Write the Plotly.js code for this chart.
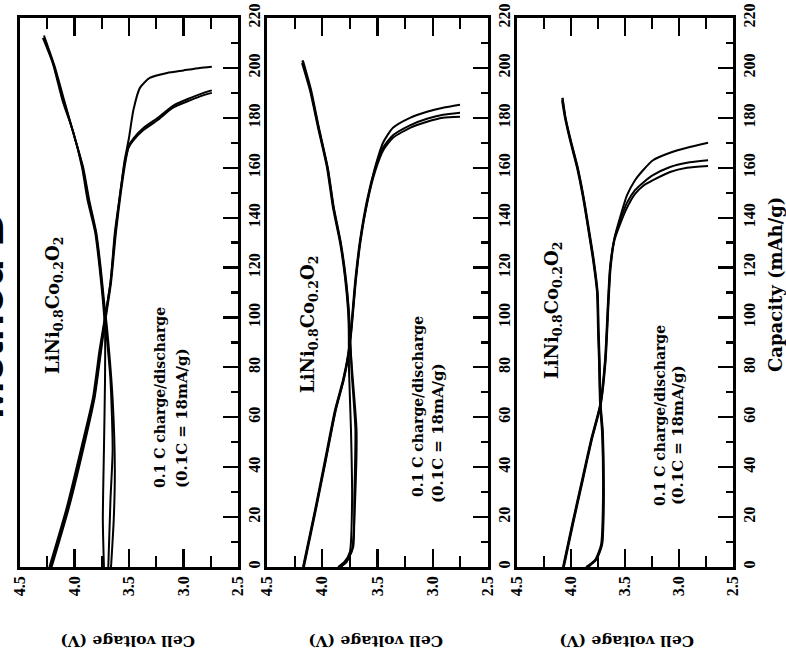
<!DOCTYPE html>
<html>
<head>
<meta charset="utf-8">
<script src="https://cdn.plot.ly/plotly-3.0.1.min.js"></script>
<style>html,body{margin:0;padding:0;background:#fff;}#chart{width:786px;height:660px;}</style>
</head>
<body>
<div id="chart"></div>
<script>
// ---------- tick labels ----------
const voltageTicks = [4.5, 4.0, 3.5, 3.0, 2.5];
const voltageTickText = ['4.5', '4.0', '3.5', '3.0', '2.5'];
const voltageMinorTicks = [4.25, 3.75, 3.25, 2.75];
const capacityTicks = [0, 20, 40, 60, 80, 100, 120, 140, 160, 180, 200, 220];
const capacityTickText = ['0', '20', '40', '60', '80', '100', '120', '140', '160', '180', '200', '220'];
const capacityMinorTicks = [10, 30, 50, 70, 90, 110, 130, 150, 170, 190, 210];

// ---------- Panel 1 (x = cell voltage V, y = capacity mAh/g) ----------
const p1_charge1_v   = [3.73, 3.74, 3.73, 3.72, 3.72, 3.74, 3.77, 3.81, 3.88, 3.93, 4.01, 4.11, 4.20, 4.29];
const p1_charge1_cap = [0, 19, 47, 75, 95, 107, 120, 134, 147, 160, 174, 187, 202, 212];
const p1_charge2_v   = [3.69, 3.67, 3.65, 3.67, 3.71, 3.735, 3.765, 3.805, 3.87, 3.925, 4.01, 4.10, 4.19, 4.28];
const p1_charge2_cap = [0, 27, 47, 75, 95, 107, 120, 134, 147, 160, 174, 187, 201, 212];
const p1_charge3_v   = [3.665, 3.64, 3.63, 3.65, 3.70, 3.73, 3.76, 3.80, 3.865, 3.92, 4.005, 4.095, 4.185, 4.28];
const p1_charge3_cap = [0, 19, 39, 67, 95, 107, 120, 134, 147, 160, 173, 187, 201, 213];
const p1_dis1_v   = [4.23, 4.07, 3.92, 3.83, 3.77, 3.74, 3.67, 3.63, 3.58, 3.54, 3.50, 3.46, 3.40, 3.31, 3.15, 3.00, 2.85, 2.74];
const p1_dis1_cap = [0, 24, 51, 68, 87, 95, 114, 134, 150, 163, 172, 183, 192, 196, 198, 199, 200, 200.5];
const p1_dis2_v   = [4.22, 4.06, 3.91, 3.82, 3.76, 3.735, 3.67, 3.625, 3.58, 3.535, 3.505, 3.46, 3.37, 3.24, 3.10, 2.94, 2.82, 2.74];
const p1_dis2_cap = [0, 24, 51, 68, 87, 95, 114, 134, 150, 163, 168, 171, 175, 179, 184, 187, 189, 190];
const p1_dis3_v   = [4.21, 4.05, 3.90, 3.815, 3.755, 3.73, 3.665, 3.62, 3.575, 3.53, 3.50, 3.455, 3.365, 3.235, 3.09, 2.935, 2.815, 2.74];
const p1_dis3_cap = [0, 24, 51, 68, 87, 95, 114, 134, 150, 163, 169, 172, 176, 180, 185, 188, 190, 191];

// ---------- Panel 2 ----------
const p2_charge1_v   = [3.857, 3.80, 3.75, 3.73, 3.74, 3.758, 3.76, 3.767, 3.794, 3.839, 3.903, 3.957, 4.038, 4.111, 4.183];
const p2_charge1_cap = [0, 2, 6, 27, 55, 79, 95, 103, 116, 130, 144, 160, 176, 191, 202];
const p2_charge2_v   = [3.84, 3.78, 3.73, 3.70, 3.69, 3.73, 3.755, 3.762, 3.79, 3.835, 3.898, 3.952, 4.033, 4.106, 4.18];
const p2_charge2_cap = [0, 2, 7, 30, 55, 79, 95, 103, 116, 130, 144, 160, 176, 191, 203];
const p2_charge3_v   = [3.83, 3.77, 3.72, 3.71, 3.70, 3.735, 3.75, 3.76, 3.787, 3.832, 3.895, 3.95, 4.03, 4.10, 4.175];
const p2_charge3_cap = [0, 3, 8, 27, 55, 79, 95, 103, 116, 130, 144, 160, 176, 191, 203];
const p2_dis1_v   = [4.174, 4.066, 3.975, 3.885, 3.812, 3.767, 3.740, 3.704, 3.658, 3.595, 3.523, 3.450, 3.360, 3.206, 3.052, 2.907, 2.753];
const p2_dis1_cap = [0, 22.8, 42.9, 62.9, 75, 85, 95, 113.8, 131, 147, 160, 170, 176, 180, 182.4, 184, 185.2];
const p2_dis2_v   = [4.17, 4.062, 3.97, 3.88, 3.808, 3.764, 3.738, 3.70, 3.655, 3.59, 3.52, 3.45, 3.36, 3.206, 3.052, 2.907, 2.753];
const p2_dis2_cap = [0, 22.8, 42.9, 62.9, 75, 85, 95, 113.8, 131, 147, 160, 168, 173, 177, 179.6, 181.2, 182];
const p2_dis3_v   = [4.166, 4.058, 3.967, 3.877, 3.805, 3.762, 3.735, 3.698, 3.652, 3.588, 3.518, 3.448, 3.36, 3.206, 3.052, 2.907, 2.753];
const p2_dis3_cap = [0, 22.8, 42.9, 62.9, 75, 85, 95, 113.8, 131, 147, 159, 167, 172, 176, 178.4, 180, 180.4];

// ---------- Panel 3 ----------
const p3_charge1_v   = [3.861, 3.778, 3.722, 3.704, 3.713, 3.731, 3.741, 3.750, 3.759, 3.796, 3.843, 3.889, 3.944, 4.009, 4.056, 4.083];
const p3_charge1_cap = [0, 2.8, 8.8, 27, 54, 65, 83, 95, 110, 123, 136, 148, 160, 171, 180, 187];
const p3_charge2_v   = [3.85, 3.77, 3.715, 3.70, 3.708, 3.728, 3.738, 3.747, 3.756, 3.792, 3.84, 3.885, 3.94, 4.005, 4.052, 4.08];
const p3_charge2_cap = [0, 3, 9, 27, 54, 65, 83, 95, 110, 123, 136, 148, 160, 171, 180, 188];
const p3_charge3_v   = [3.84, 3.765, 3.712, 3.696, 3.705, 3.725, 3.735, 3.744, 3.753, 3.789, 3.836, 3.882, 3.937, 4.002, 4.05, 4.078];
const p3_charge3_cap = [0, 3, 9, 27, 54, 65, 83, 95, 110, 123, 136, 148, 160, 171, 180, 188];
const p3_dis1_v   = [4.074, 3.991, 3.898, 3.815, 3.731, 3.685, 3.657, 3.639, 3.602, 3.546, 3.481, 3.407, 3.333, 3.241, 3.083, 2.926, 2.731];
const p3_dis1_cap = [0, 16.8, 34.9, 50.9, 64.9, 83, 107, 120, 131, 140, 149, 155, 159, 163, 166, 168, 170];
const p3_dis2_v   = [4.07, 3.987, 3.894, 3.811, 3.728, 3.682, 3.654, 3.636, 3.60, 3.544, 3.481, 3.407, 3.333, 3.241, 3.083, 2.926, 2.731];
const p3_dis2_cap = [0, 16.8, 34.9, 50.9, 64.9, 83, 107, 120, 131, 139, 146, 151, 154, 157, 160.3, 162, 163];
const p3_dis3_v   = [4.066, 3.983, 3.89, 3.808, 3.725, 3.679, 3.651, 3.633, 3.597, 3.54, 3.481, 3.407, 3.333, 3.241, 3.083, 2.926, 2.731];
const p3_dis3_cap = [0, 16.8, 34.9, 50.9, 64.9, 83, 107, 120, 131, 138, 144, 149.5, 152.7, 155, 158.3, 160, 160.7];

// ---------- Text ----------
const titleText = 'Method B';
const compoundText = 'LiNi<sub>0.8</sub>Co<sub>0.2</sub>O<sub>2</sub>';
const rateLine1 = '0.1 C charge/discharge';
const rateLine2 = '(0.1C = 18mA/g)';
const voltageTitle = 'Cell voltage (V)';
const capacityTitle = 'Capacity (mAh/g)';

// ---------- build ----------
const W = 786, H = 660;
const fx = p => p / W;
const fy = p => 1 - p / H;

const panels = [
  { curves: [[p1_charge1_v, p1_charge1_cap], [p1_charge2_v, p1_charge2_cap], [p1_charge3_v, p1_charge3_cap],
             [p1_dis1_v, p1_dis1_cap], [p1_dis2_v, p1_dis2_cap], [p1_dis3_v, p1_dis3_cap]],
    left: 20, right: 238 },
  { curves: [[p2_charge1_v, p2_charge1_cap], [p2_charge2_v, p2_charge2_cap], [p2_charge3_v, p2_charge3_cap],
             [p2_dis1_v, p2_dis1_cap], [p2_dis2_v, p2_dis2_cap], [p2_dis3_v, p2_dis3_cap]],
    left: 267, right: 488 },
  { curves: [[p3_charge1_v, p3_charge1_cap], [p3_charge2_v, p3_charge2_cap], [p3_charge3_v, p3_charge3_cap],
             [p3_dis1_v, p3_dis1_cap], [p3_dis2_v, p3_dis2_cap], [p3_dis3_v, p3_dis3_cap]],
    left: 517, right: 733 }
];

const plotTop = 18, plotBottom = 567;
const tickFont = { family: 'Liberation Serif', size: 16, color: '#000', weight: 'bold' };
const txtFont = (s) => ({ family: 'DejaVu Serif', size: s, color: '#000', weight: 'bold' });

const traces = [];
const layout = {
  width: W, height: H,
  margin: { l: 0, r: 0, t: 0, b: 0 },
  paper_bgcolor: '#fff', plot_bgcolor: '#fff',
  showlegend: false,
  annotations: []
};

panels.forEach((p, i) => {
  const n = i + 1;
  const xa = n === 1 ? 'x' : 'x' + n;
  const ya = n === 1 ? 'y' : 'y' + n;
  p.curves.forEach(c => {
    traces.push({ x: c[0], y: c[1], xaxis: xa, yaxis: ya, type: 'scatter', mode: 'lines',
      line: { color: '#000', width: 2, shape: 'spline', smoothing: 0.6 }, hoverinfo: 'skip' });
  });
  const xKey = n === 1 ? 'xaxis' : 'xaxis' + n;
  const yKey = n === 1 ? 'yaxis' : 'yaxis' + n;
  const yLeftKey = 'yaxis' + (n + 3);
  layout[xKey] = {
    domain: [fx(p.left), fx(p.right)], anchor: ya,
    range: [4.5, 2.5], tickmode: 'array', tickvals: voltageTicks, ticktext: voltageTickText,
    ticks: 'inside', ticklen: 18, tickwidth: 2.2, tickcolor: '#000',
    minor: { tickmode: 'array', tickvals: voltageMinorTicks, ticks: 'inside', ticklen: 11, tickwidth: 2.2, tickcolor: '#000', showgrid: false },
    showline: true, linewidth: 2.8, linecolor: '#000', mirror: 'ticks',
    showgrid: false, zeroline: false, tickangle: -90, tickfont: tickFont, fixedrange: true
  };
  layout[yKey] = {
    domain: [fy(plotBottom), fy(plotTop)], anchor: xa, side: 'right',
    range: [0, 220], tickmode: 'array', tickvals: capacityTicks, ticktext: capacityTickText,
    ticks: 'inside', ticklen: 15, tickwidth: 2.2, tickcolor: '#000',
    minor: { tickmode: 'array', tickvals: capacityMinorTicks, ticks: 'inside', ticklen: 7, tickwidth: 2.2, tickcolor: '#000', showgrid: false },
    showline: true, linewidth: 2.8, linecolor: '#000', mirror: true,
    showgrid: false, zeroline: false, tickangle: -90, tickfont: tickFont, fixedrange: true
  };
  layout[yLeftKey] = {
    overlaying: ya, anchor: xa, side: 'left', range: [0, 220],
    tickmode: 'linear', tick0: 11.5, dtick: 11, ticks: 'inside', ticklen: 13, tickwidth: 2.2, tickcolor: '#000',
    showticklabels: false, showline: false, showgrid: false, zeroline: false, fixedrange: true
  };
});

// annotations (positions in pixels converted to paper)
const ann = (text, x, y, angle, font) => layout.annotations.push({
  text: text, xref: 'paper', yref: 'paper', x: fx(x), y: fy(y), xanchor: 'center', yanchor: 'middle',
  textangle: angle, showarrow: false, font: font
});
ann(titleText, -12, 317, -90, { family: 'Liberation Sans', size: 45, color: '#000', weight: 'bold' });
const compoundPos = [[54, 306], [309, 325], [553, 311]];
const line1Pos = [[160, 398], [418, 407], [660, 416]];
const line2Pos = [[182, 418], [438, 433], [678, 435]];
const vTitlePos = [128, 376, 627];
for (let i = 0; i < 3; i++) {
  ann(compoundText, compoundPos[i][0], compoundPos[i][1], -90, txtFont(18));
  ann(rateLine1, line1Pos[i][0], line1Pos[i][1], -90, txtFont(14));
  ann(rateLine2, line2Pos[i][0], line2Pos[i][1], -90, txtFont(15));
  ann(voltageTitle, vTitlePos[i], 642, 180, txtFont(15.5));
}
ann(capacityTitle, 775, 285, -90, txtFont(18));

Plotly.newPlot('chart', traces, layout, { staticPlot: true, displayModeBar: false });
</script>
</body>
</html>
